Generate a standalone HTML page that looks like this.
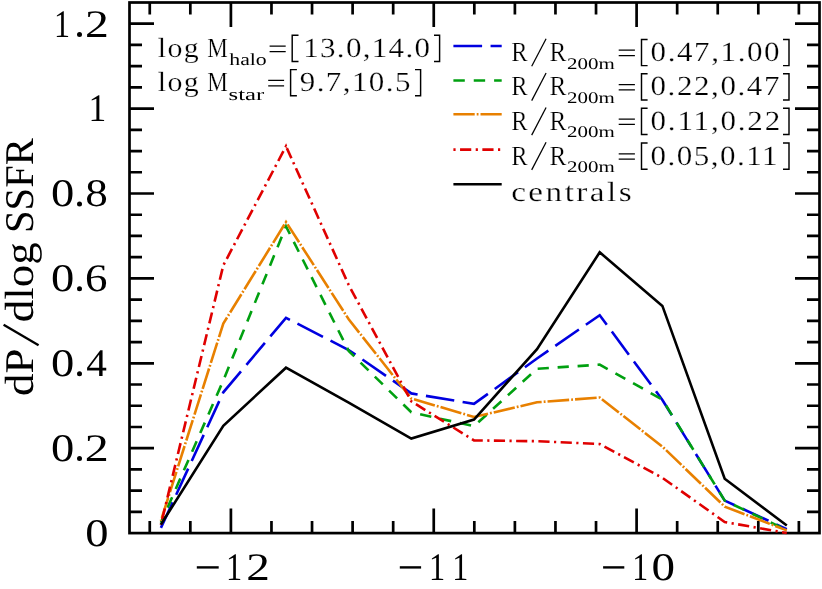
<!DOCTYPE html>
<html><head><meta charset="utf-8"><title>SSFR distribution</title>
<style>
html,body{margin:0;padding:0;background:#fff;}
svg{display:block;will-change:transform;}
text{font-family:"Liberation Serif",serif;fill:#000;text-rendering:geometricPrecision;}
.tk{stroke:#000;stroke-width:2.7;fill:none;stroke-linecap:butt;}
.th{stroke:#000;stroke-width:1.25;fill:none;stroke-linecap:butt;stroke-linejoin:miter;}
.lg{stroke:#fff;stroke-width:0.25px;}
.sb{}
.br{stroke:#000;stroke-width:1.45;fill:none;stroke-linecap:butt;stroke-linejoin:miter;}
</style></head>
<body>
<svg width="822" height="589" viewBox="0 0 822 589">
<rect x="0" y="0" width="822" height="589" fill="#fff"/>
<path class="tk" d="M149.76 533.10V521.10M149.76 2.50V14.50M190.33 533.10V521.10M190.33 2.50V14.50M230.90 533.10V508.50M230.90 2.50V27.10M271.47 533.10V521.10M271.47 2.50V14.50M312.04 533.10V521.10M312.04 2.50V14.50M352.61 533.10V521.10M352.61 2.50V14.50M393.18 533.10V521.10M393.18 2.50V14.50M433.75 533.10V508.50M433.75 2.50V27.10M474.32 533.10V521.10M474.32 2.50V14.50M514.89 533.10V521.10M514.89 2.50V14.50M555.46 533.10V521.10M555.46 2.50V14.50M596.03 533.10V521.10M596.03 2.50V14.50M636.60 533.10V508.50M636.60 2.50V27.10M677.17 533.10V521.10M677.17 2.50V14.50M717.74 533.10V521.10M717.74 2.50V14.50M758.31 533.10V521.10M758.31 2.50V14.50M798.88 533.10V521.10M798.88 2.50V14.50M129.50 511.88H142.00M819.50 511.88H807.00M129.50 490.65H142.00M819.50 490.65H807.00M129.50 469.43H142.00M819.50 469.43H807.00M129.50 448.20H154.00M819.50 448.20H795.00M129.50 426.98H142.00M819.50 426.98H807.00M129.50 405.75H142.00M819.50 405.75H807.00M129.50 384.52H142.00M819.50 384.52H807.00M129.50 363.30H154.00M819.50 363.30H795.00M129.50 342.08H142.00M819.50 342.08H807.00M129.50 320.85H142.00M819.50 320.85H807.00M129.50 299.62H142.00M819.50 299.62H807.00M129.50 278.40H154.00M819.50 278.40H795.00M129.50 257.18H142.00M819.50 257.18H807.00M129.50 235.95H142.00M819.50 235.95H807.00M129.50 214.73H142.00M819.50 214.73H807.00M129.50 193.50H154.00M819.50 193.50H795.00M129.50 172.27H142.00M819.50 172.27H807.00M129.50 151.05H142.00M819.50 151.05H807.00M129.50 129.82H142.00M819.50 129.82H807.00M129.50 108.60H154.00M819.50 108.60H795.00M129.50 87.38H142.00M819.50 87.38H807.00M129.50 66.15H142.00M819.50 66.15H807.00M129.50 44.92H142.00M819.50 44.92H807.00M129.50 23.70H154.00M819.50 23.70H795.00"/>
<rect class="tk" x="129.50" y="2.50" width="690.00" height="530.60"/>
<polyline points="160.9,527.9 223.3,392.3 286.0,317.8 348.7,350.0 411.3,393.4 474.0,403.9 537.0,358.5 599.7,315.2 662.4,400.0 724.7,500.6 786.8,529.2" fill="none" stroke="#0000e0" stroke-width="2.6" stroke-linejoin="miter" stroke-miterlimit="10" stroke-dasharray="28.08 8.46 28.70 8.46 28.70 8.46 28.70 8.46 28.70 8.46 28.70 8.46 28.70 8.46 28.70 8.46 28.70 8.46 28.70 8.46 28.70 8.46 28.70 8.46 28.70 8.46 28.70 8.46 28.70 8.46 28.70 8.46 28.70 8.46 28.70 8.46 28.70 8.46 28.70 8.46 28.70 8.46 28.70 8.46 28.70 8.46 28.70 8.46 11.66 50.00" stroke-dashoffset="0"/>
<polyline points="160.9,522.8 223.3,380.5 286.0,226.3 348.7,351.0 411.3,412.3 474.0,426.2 537.0,368.8 599.7,364.6 662.4,399.6 724.7,500.6 786.8,530.2" fill="none" stroke="#00a010" stroke-width="2.6" stroke-linejoin="miter" stroke-miterlimit="10" stroke-dasharray="7.63 8.95 11.40 8.95 11.40 8.95 11.40 8.95 11.40 8.95 11.40 8.95 11.40 8.95 11.40 8.90 11.23 8.82 11.23 8.82 11.23 8.82 11.23 8.82 11.23 8.82 11.23 8.82 11.23 8.82 11.23 8.82 11.12 8.71 11.09 8.71 11.09 8.71 11.09 8.71 11.09 8.71 11.09 8.71 11.09 8.71 11.17 8.79 11.20 8.79 11.20 8.79 11.20 8.79 11.20 8.96 11.41 8.96 11.41 8.96 11.41 8.85 11.21 8.80 11.21 8.80 11.21 8.80 11.21 8.80 11.21 8.80 11.21 8.80 11.21 8.80 11.29 8.88 11.31 8.88 11.31 8.88 11.31 8.93 11.40 8.95 11.40 8.95 11.40 8.95 11.40 8.95 11.40 8.95 11.40 8.95 11.40 8.95 11.40 8.95 11.40 6.41" stroke-dashoffset="0"/>
<polyline points="160.9,520.8 223.3,323.6 286.0,222.0 348.7,319.3 411.3,398.5 474.0,417.0 537.0,402.3 599.7,397.5 662.4,446.6 724.7,506.6 786.8,530.4" fill="none" stroke="#e88000" stroke-width="2.6" stroke-linejoin="miter" stroke-miterlimit="10" stroke-dasharray="0.94 2.00 21.30 2.00 1.80 2.00 21.30 2.00 1.80 2.00 21.30 2.00 1.80 2.00 21.30 2.00 1.80 2.00 21.30 2.00 1.80 2.00 21.30 2.00 1.80 2.00 21.30 2.00 1.80 2.00 21.35 2.02 1.81 2.02 21.46 2.02 1.81 2.02 21.46 2.02 1.81 2.02 21.46 2.02 1.81 2.02 21.46 2.02 1.81 2.00 21.35 2.00 1.80 2.00 21.35 2.00 1.80 2.00 21.35 2.00 1.80 2.00 21.35 2.00 1.80 2.00 21.25 1.99 1.79 1.99 21.23 1.99 1.79 1.99 21.23 1.99 1.79 1.99 21.23 1.99 1.81 2.04 21.72 2.04 1.84 2.04 21.72 2.04 1.84 2.04 21.64 2.03 1.83 2.03 21.60 2.03 1.83 2.03 21.61 2.04 1.83 2.04 21.67 2.04 1.83 2.04 21.67 2.04 1.82 2.02 21.47 2.02 1.81 2.02 21.47 2.02 1.81 2.02 21.47 2.01 1.80 2.00 21.30 2.00 1.80 2.00 21.30 2.00 1.80 2.00 21.30 2.00 1.80 2.00 21.30 2.00 1.80 2.00 21.30 2.00 1.80 2.00 12.40 50.00" stroke-dashoffset="0"/>
<polyline points="160.9,524.8 223.3,265.4 286.0,146.3 348.7,285.0 411.3,401.3 474.0,440.4 537.0,441.2 599.7,444.0 662.4,477.8 724.7,522.0 786.8,533.0" fill="none" stroke="#e00000" stroke-width="2.6" stroke-linejoin="miter" stroke-miterlimit="10" stroke-dasharray="1.10 4.47 11.25 4.47 2.21 4.47 11.25 4.47 2.21 4.47 11.25 4.47 2.21 4.47 11.25 4.47 2.21 4.47 11.25 4.47 2.21 4.47 11.25 4.47 2.21 4.47 11.25 4.47 2.21 4.47 11.25 4.47 2.21 4.47 11.25 4.47 2.21 4.47 11.25 4.47 2.21 4.47 11.25 4.47 2.21 4.47 11.25 4.46 2.18 4.41 11.10 4.41 2.18 4.41 11.10 4.41 2.18 4.41 11.10 4.41 2.18 4.41 11.10 4.41 2.18 4.41 11.10 4.41 2.18 4.41 11.10 4.41 1.18 1.95 11.11 4.41 2.18 4.41 11.11 4.41 2.18 4.41 11.11 4.41 2.18 4.41 11.11 4.41 2.18 4.41 11.11 4.41 2.18 4.41 11.11 4.41 2.18 4.41 11.11 4.41 2.18 4.42 11.13 4.42 2.19 4.42 11.13 4.42 2.19 4.42 11.13 4.42 2.19 4.42 11.13 4.42 2.19 4.42 11.13 4.42 2.19 4.42 11.13 4.42 2.18 4.40 11.06 4.40 2.17 4.40 11.06 4.40 2.17 4.40 11.06 4.40 2.17 4.40 11.16 4.44 2.20 4.44 11.18 4.44 2.20 4.44 11.18 4.44 2.20 4.44 11.19 4.45 2.20 4.45 11.19 4.45 2.20 4.45 11.19 4.45 2.19 4.42 11.13 4.42 2.19 4.42 11.13 4.42 2.19 4.42 11.13 4.42 2.19 4.43 11.21 4.46 2.20 4.46 11.21 4.46 2.20 4.46 11.21 4.46 2.20 4.46 11.21 4.45 2.20 4.45 11.20 4.45 2.20 4.45 11.20 4.45 2.20 4.45 4.82 50.00" stroke-dashoffset="0"/>
<polyline points="160.9,524.6 223.3,425.8 286.0,367.7 348.7,402.6 411.3,438.6 474.0,419.6 537.0,349.1 599.7,252.3 662.4,305.9 724.7,478.8 786.8,525.5" fill="none" stroke="#000000" stroke-width="2.6" stroke-linejoin="miter" stroke-miterlimit="10"/>
<line x1="453.4" y1="46.0" x2="501.7" y2="46.0" stroke="#0000e0" stroke-width="2.6" stroke-dasharray="28.7 8.46"/>
<line x1="453.4" y1="80.5" x2="501.7" y2="80.5" stroke="#00a010" stroke-width="2.6" stroke-dasharray="11.4 8.95"/>
<line x1="453.4" y1="114.3" x2="501.7" y2="114.3" stroke="#e88000" stroke-width="2.6" stroke-dasharray="21.3 2 1.8 2"/>
<line x1="453.4" y1="149.6" x2="501.7" y2="149.6" stroke="#e00000" stroke-width="2.6" stroke-dasharray="2.2 4.45 11.2 4.45"/>
<line x1="453.4" y1="184.2" x2="501.7" y2="184.2" stroke="#000000" stroke-width="2.6"/>
<text transform="translate(54.10,36.90) scale(0.8220,1.0000)" font-size="39">1</text>
<circle cx="79.5" cy="34.5" r="2.5" fill="#000"/>
<text transform="translate(85.05,36.90) scale(1.2244,1.0000)" font-size="39">2</text>
<text transform="translate(88.40,121.30) scale(0.9093,1.0000)" font-size="39">1</text>
<text transform="translate(51.05,206.30) scale(1.1946,1.0000)" font-size="39">0</text>
<circle cx="79.5" cy="203.9" r="2.5" fill="#000"/>
<text transform="translate(85.31,206.30) scale(1.1584,1.0000)" font-size="39">8</text>
<text transform="translate(51.05,291.20) scale(1.1946,1.0000)" font-size="39">0</text>
<circle cx="79.5" cy="288.8" r="2.5" fill="#000"/>
<text transform="translate(85.09,291.20) scale(1.1516,1.0000)" font-size="39">6</text>
<text transform="translate(51.05,376.10) scale(1.1946,1.0000)" font-size="39">0</text>
<circle cx="79.5" cy="373.7" r="2.5" fill="#000"/>
<text transform="translate(86.17,376.10) scale(1.0587,1.0000)" font-size="39">4</text>
<text transform="translate(51.05,461.00) scale(1.1946,1.0000)" font-size="39">0</text>
<circle cx="79.5" cy="458.6" r="2.5" fill="#000"/>
<text transform="translate(84.84,461.00) scale(1.2308,1.0000)" font-size="39">2</text>
<text transform="translate(85.25,545.90) scale(1.1946,1.0000)" font-size="39">0</text>
<text transform="translate(226.07,579.60) scale(0.8292,1.0000)" font-size="39">1</text>
<text transform="translate(246.17,579.60) scale(1.2115,1.0000)" font-size="39">2</text>
<path d="M196.8 567.4H218.7" stroke="#000" stroke-width="2.4" fill="none"/>
<text transform="translate(428.97,579.60) scale(0.8292,1.0000)" font-size="39">1</text>
<text transform="translate(452.20,579.60) scale(0.8220,1.0000)" font-size="39">1</text>
<path d="M399.8 567.4H421.1" stroke="#000" stroke-width="2.4" fill="none"/>
<text transform="translate(632.22,579.60) scale(0.8147,1.0000)" font-size="39">1</text>
<text transform="translate(651.54,579.60) scale(1.2066,1.0000)" font-size="39">0</text>
<path d="M603.1 567.4H624.3" stroke="#000" stroke-width="2.4" fill="none"/>
<text transform="translate(33.00,394.50) rotate(-90) translate(-1.57,0) scale(1.1004,1.0000)" font-size="40.8">dP</text>
<path d="M38.6 345.3L3.6 324.7" stroke="#000" stroke-width="2.3" fill="none"/>
<text transform="translate(33.00,394.50) rotate(-90) translate(72.23,0) scale(1.1013,1.0000)" font-size="40.8">dlog</text>
<text transform="translate(33.00,394.50) rotate(-90) translate(161.46,0) scale(0.9955,1.0000)" font-size="40.8">SSFR</text>
<text transform="translate(157.80,57.00) scale(1.0800,1.0000)" font-size="27.7" class="lg" letter-spacing="1.287">log</text>
<text transform="translate(207.31,57.00) scale(0.8351,1.0000)" font-size="27.7" class="lg">M</text>
<text transform="translate(229.28,65.20) scale(1.2783,1.0000)" font-size="17" class="sb">halo</text>
<path class="th" d="M269.6 46.1H285.7M269.6 51.5H285.7"/>
<path class="br" d="M298.5 35.3H292.2V61.5H298.5"/>
<text transform="translate(303.19,57.00) scale(1.1200,1.0000)" font-size="27.7" class="lg" letter-spacing="1.176">13.0,14.0</text>
<path class="br" d="M434.0 35.3H439.6V61.5H434.0"/>
<text transform="translate(157.80,91.30) scale(1.0800,1.0000)" font-size="27.7" class="lg" letter-spacing="1.287">log</text>
<text transform="translate(207.31,91.30) scale(0.8351,1.0000)" font-size="27.7" class="lg">M</text>
<text transform="translate(228.51,99.50) scale(1.4548,1.0000)" font-size="17" class="sb">star</text>
<path class="th" d="M268.2 80.4H284.1M268.2 85.8H284.1"/>
<path class="br" d="M296.9 69.6H290.6V95.8H296.9"/>
<text transform="translate(299.69,91.30) scale(1.1200,1.0000)" font-size="27.7" class="lg" letter-spacing="1.278">9.7,10.5</text>
<path class="br" d="M415.0 69.6H420.6V95.8H415.0"/>
<text transform="translate(511.37,61.10) scale(0.8812,1.0000)" font-size="27.7" class="lg">R</text>
<path class="th" d="M531.7 66.3L546.1 38.7"/>
<text transform="translate(549.44,61.10) scale(0.9096,1.0000)" font-size="27.7" class="lg">R</text>
<text transform="translate(567.06,68.50) scale(1.2944,1.0000)" font-size="16.2" class="sb">200m</text>
<path class="th" d="M618.7 50.2H634.9M618.7 55.6H634.9"/>
<path class="br" d="M647.6 39.4H641.5V65.6H647.6"/>
<text transform="translate(650.54,61.10) scale(1.1200,1.0000)" font-size="27.7" class="lg" letter-spacing="1.427">0.47,1.00</text>
<path class="br" d="M783.0 39.4H789.0V65.6H783.0"/>
<text transform="translate(511.37,95.40) scale(0.8812,1.0000)" font-size="27.7" class="lg">R</text>
<path class="th" d="M531.7 100.6L546.1 73.0"/>
<text transform="translate(549.44,95.40) scale(0.9096,1.0000)" font-size="27.7" class="lg">R</text>
<text transform="translate(567.06,102.80) scale(1.2944,1.0000)" font-size="16.2" class="sb">200m</text>
<path class="th" d="M618.7 84.5H634.9M618.7 89.9H634.9"/>
<path class="br" d="M647.6 73.7H641.5V99.9H647.6"/>
<text transform="translate(650.54,95.40) scale(1.1200,1.0000)" font-size="27.7" class="lg" letter-spacing="1.401">0.22,0.47</text>
<path class="br" d="M783.0 73.7H789.0V99.9H783.0"/>
<text transform="translate(511.37,129.90) scale(0.8812,1.0000)" font-size="27.7" class="lg">R</text>
<path class="th" d="M531.7 135.1L546.1 107.5"/>
<text transform="translate(549.44,129.90) scale(0.9096,1.0000)" font-size="27.7" class="lg">R</text>
<text transform="translate(567.06,137.30) scale(1.2944,1.0000)" font-size="16.2" class="sb">200m</text>
<path class="th" d="M618.7 119.0H634.9M618.7 124.4H634.9"/>
<path class="br" d="M647.6 108.2H641.5V134.4H647.6"/>
<text transform="translate(650.54,129.90) scale(1.1200,1.0000)" font-size="27.7" class="lg" letter-spacing="1.618">0.11,0.22</text>
<path class="br" d="M783.0 108.2H789.0V134.4H783.0"/>
<text transform="translate(511.37,164.70) scale(0.8812,1.0000)" font-size="27.7" class="lg">R</text>
<path class="th" d="M531.7 169.9L546.1 142.3"/>
<text transform="translate(549.44,164.70) scale(0.9096,1.0000)" font-size="27.7" class="lg">R</text>
<text transform="translate(567.06,172.10) scale(1.2944,1.0000)" font-size="16.2" class="sb">200m</text>
<path class="th" d="M618.7 153.8H634.9M618.7 159.2H634.9"/>
<path class="br" d="M647.6 143.0H641.5V169.2H647.6"/>
<text transform="translate(650.54,164.70) scale(1.1200,1.0000)" font-size="27.7" class="lg" letter-spacing="1.334">0.05,0.11</text>
<path class="br" d="M783.0 143.0H789.0V169.2H783.0"/>
<text transform="translate(511.15,200.50) scale(1.2000,1.0000)" font-size="27.7" class="lg" letter-spacing="2.050">centrals</text>
</svg>
</body></html>
